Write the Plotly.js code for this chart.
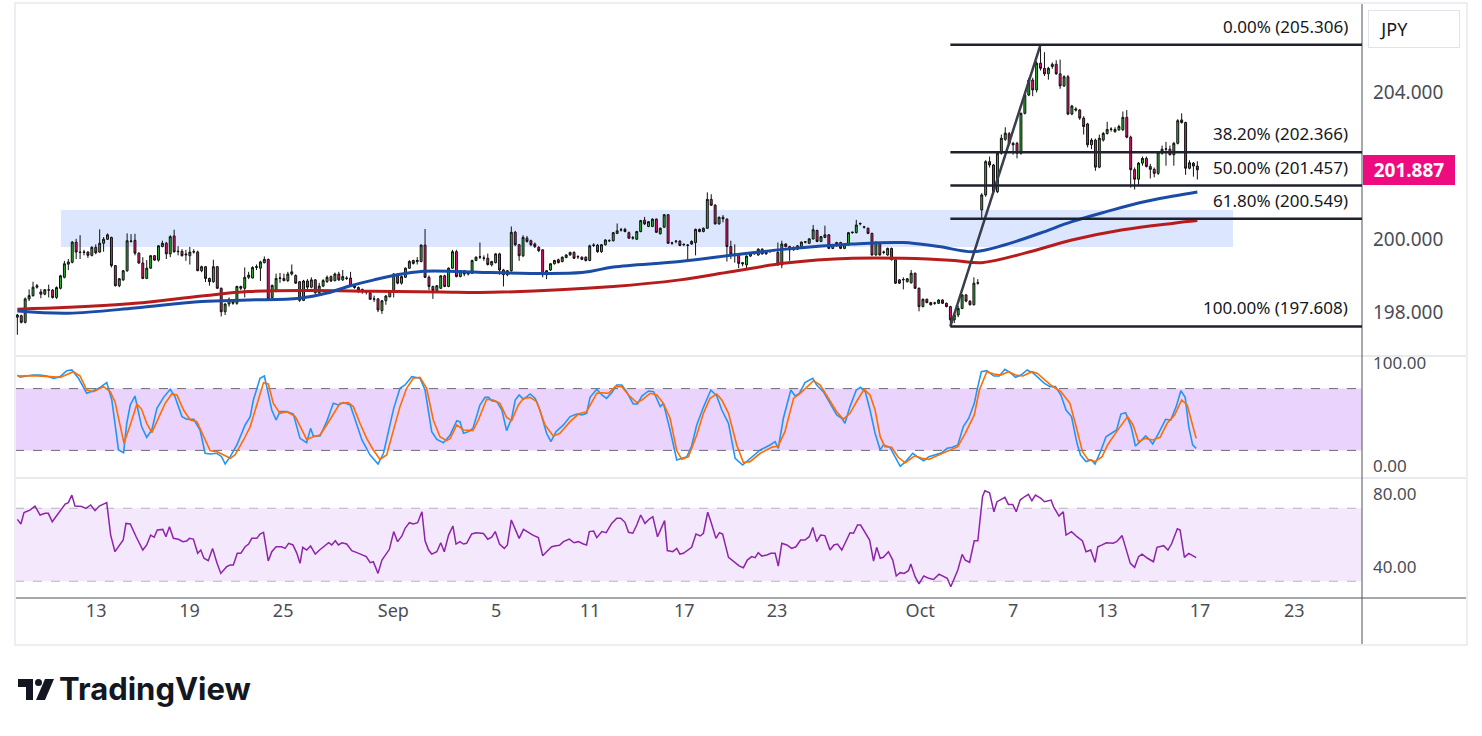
<!DOCTYPE html>
<html>
<head>
<meta charset="utf-8">
<script src="https://cdn.plot.ly/plotly-3.0.1.min.js"></script>
<style>
  html, body { margin: 0; padding: 0; background: #ffffff; }
  #chart { width: 1482px; height: 736px; }
</style>
</head>
<body>
<div id="chart"></div>
<script>
// ---------- DATA (GBP/JPY, 4h candles) ----------
const openP = [
197.86,197.90,197.72,198.36,198.45,198.68,198.55,198.49,198.61,198.60,
198.40,198.65,198.95,199.31,199.36,199.91,199.64,199.63,199.64,199.55,
199.77,199.64,199.88,199.99,200.04,199.27,198.72,198.88,199.13,199.93,
199.96,199.61,199.34,198.92,199.20,199.54,199.42,199.79,199.88,199.59,
200.08,199.65,199.66,199.56,199.54,199.64,199.64,199.13,199.24,198.92,
198.83,199.24,198.65,198.01,198.22,198.30,198.24,198.70,198.65,198.95,
198.93,199.22,199.20,199.35,199.44,198.40,198.56,198.92,198.92,198.86,
199.04,199.00,198.83,198.32,198.85,198.68,198.88,198.53,198.71,198.83,
198.97,198.86,199.04,198.88,198.93,198.93,198.74,198.67,198.62,198.56,
198.52,198.35,198.36,198.04,198.31,198.42,198.55,199.04,198.79,198.95,
199.20,199.41,199.38,199.38,199.83,198.95,198.70,198.59,198.65,198.99,
198.70,199.20,199.65,198.97,199.13,199.04,199.06,199.41,199.50,199.48,
199.47,199.29,199.35,199.59,199.15,199.02,199.13,200.18,199.84,199.54,
200.02,199.95,199.86,199.77,199.70,199.02,199.15,199.32,199.43,199.38,
199.49,199.56,199.63,199.52,199.50,199.50,199.41,199.82,199.83,199.65,
199.84,199.95,199.95,200.15,200.24,200.26,200.17,200.02,199.99,200.20,
200.51,200.34,200.34,200.54,200.14,200.32,200.66,199.88,199.93,199.94,
199.84,199.82,199.93,199.90,200.26,200.20,200.29,201.08,200.92,200.41,
200.59,200.54,199.79,199.59,199.56,199.35,199.29,199.53,199.59,199.56,
199.72,199.65,199.65,199.68,199.63,199.29,199.86,199.79,199.70,199.72,
199.79,199.91,199.88,200.00,200.23,199.93,200.04,200.11,199.74,199.81,
199.90,199.74,199.84,200.17,200.17,200.41,200.32,200.29,200.15,199.56,
199.88,199.63,199.56,199.74,199.43,198.88,198.88,198.83,198.80,199.06,
198.65,198.15,198.35,198.26,198.24,198.24,198.33,198.24,198.15,197.79,
197.92,198.10,198.47,198.30,198.20,198.79,200.79,201.20,202.11,202.02,
201.29,202.34,202.72,202.87,202.61,202.61,202.34,203.43,203.93,204.34,
204.07,204.80,204.66,204.51,204.71,204.77,204.51,204.18,204.43,203.41,
203.55,203.52,203.30,203.14,202.57,202.70,201.96,202.70,202.88,202.99,
202.93,202.98,202.98,203.32,202.78,201.89,201.63,202.07,202.20,201.98,
201.90,201.79,202.34,202.45,202.45,202.30,202.61,203.25,203.18,201.93,
202.07,201.99];
const highP = [
197.95,197.93,198.40,198.62,198.83,198.77,198.63,198.63,198.75,198.63,
198.70,199.02,199.40,199.45,199.94,200.00,200.10,199.70,199.66,199.80,
199.85,200.26,200.05,200.15,200.06,199.28,198.93,199.15,200.15,200.13,
200.14,199.63,199.50,199.42,199.56,199.56,199.83,199.95,199.92,200.10,
200.25,199.80,199.72,199.70,199.78,199.72,199.68,199.27,199.26,198.94,
199.43,199.26,198.67,198.24,198.40,198.32,198.72,198.72,199.22,199.10,
199.25,199.30,199.40,199.52,199.46,198.75,199.05,199.07,199.05,199.10,
199.30,199.03,198.85,198.88,198.90,198.95,198.90,198.80,198.90,199.00,
199.00,199.08,199.10,199.15,198.98,199.10,198.76,198.70,198.64,198.58,
198.55,198.45,198.38,198.33,198.46,198.60,199.06,199.06,199.00,199.22,
199.42,199.43,199.50,199.85,200.27,199.00,198.72,198.74,199.01,199.02,
199.22,199.70,199.70,199.15,199.15,199.10,199.43,199.52,199.90,199.55,
199.60,199.40,199.61,199.62,199.18,199.15,200.34,200.22,199.86,200.10,
200.08,199.98,199.90,199.80,199.72,199.15,199.34,199.43,199.46,199.52,
199.58,199.65,199.66,199.55,199.52,199.52,199.84,199.88,199.86,199.86,
199.99,199.99,200.19,200.42,200.30,200.30,200.20,200.08,200.22,200.52,
200.60,200.49,200.56,200.56,200.31,200.68,200.68,199.92,199.96,199.96,
199.87,199.86,199.96,200.28,200.28,200.31,201.27,201.22,200.95,200.61,
200.65,200.56,199.95,199.85,199.58,199.37,199.55,199.63,199.64,199.74,
199.74,199.67,199.68,199.71,199.90,199.95,199.88,199.81,199.79,199.83,
199.93,199.94,200.02,200.38,200.25,200.08,200.36,200.13,199.86,199.92,
199.92,199.86,200.19,200.20,200.52,200.45,200.35,200.31,200.17,199.93,
199.90,199.68,199.76,199.76,199.45,198.90,198.95,198.93,199.15,199.08,
198.67,198.37,198.37,198.28,198.28,198.35,198.35,198.26,198.17,197.94,
198.17,198.49,198.49,198.32,198.95,198.90,201.25,202.15,202.25,202.05,
202.38,202.85,203.05,202.92,202.65,202.65,203.45,203.97,204.40,204.40,
204.85,205.306,205.10,204.70,204.82,204.88,204.90,204.47,204.48,203.66,
203.60,203.55,203.35,203.17,202.75,202.74,202.85,202.92,203.20,203.05,
203.05,203.12,203.48,203.52,202.82,201.95,202.10,202.25,202.25,202.05,
201.95,202.40,202.55,202.65,202.55,202.65,203.27,203.43,203.20,202.15,
202.10,202.12];
const lowP = [
197.38,197.69,197.69,198.30,198.42,198.64,198.38,198.46,198.40,198.37,
198.36,198.62,198.92,199.15,199.33,199.45,199.45,199.55,199.48,199.52,
199.58,199.62,199.65,199.97,199.22,198.70,198.68,198.85,199.10,199.90,
199.55,199.32,198.90,198.90,199.18,199.40,199.38,199.77,199.45,199.50,
199.62,199.55,199.52,199.40,199.30,199.60,199.12,199.09,198.82,198.72,
198.80,198.63,197.88,197.92,198.15,198.20,198.20,198.60,198.40,198.90,
198.92,199.15,198.85,199.33,198.33,198.38,198.55,198.80,198.84,198.82,
199.00,198.77,198.28,198.30,198.60,198.65,198.50,198.48,198.68,198.80,
198.82,198.84,198.85,198.85,198.88,198.70,198.64,198.52,198.50,198.48,
198.33,198.28,198.00,197.95,198.20,198.40,198.40,198.76,198.75,198.93,
199.18,199.30,199.30,199.36,198.93,198.60,198.36,198.57,198.63,198.68,
198.68,199.18,198.95,198.95,198.98,199.00,199.04,199.39,199.45,199.40,
199.27,199.25,199.33,199.02,198.70,198.98,199.10,199.80,199.40,199.50,
199.90,199.80,199.75,199.64,198.95,198.90,199.12,199.30,199.33,199.36,
199.47,199.54,199.45,199.45,199.42,199.38,199.39,199.78,199.62,199.62,
199.82,199.92,199.93,200.13,200.20,200.18,200.00,199.98,199.97,200.18,
200.38,200.32,200.32,200.16,200.12,200.30,199.86,199.84,199.88,199.80,
199.80,199.40,199.84,199.55,200.18,200.18,200.27,200.90,200.39,200.39,
200.45,199.38,199.45,199.35,199.20,199.25,199.20,199.51,199.57,199.54,
199.57,199.57,199.62,199.65,199.27,199.20,199.77,199.40,199.68,199.70,
199.77,199.88,199.86,199.98,199.91,199.91,200.02,199.72,199.72,199.79,
199.72,199.72,199.82,200.14,200.15,200.37,200.28,200.13,199.54,199.54,
199.54,199.58,199.54,199.41,198.77,198.77,198.62,198.81,198.78,198.63,
198.02,198.13,198.24,198.18,198.20,198.22,198.22,198.13,197.608,197.70,
197.86,198.08,198.27,198.18,198.18,198.75,200.52,201.15,201.95,201.25,
201.25,202.30,202.68,202.55,202.30,202.20,202.30,203.40,203.90,203.90,
204.00,204.60,204.45,204.35,204.65,204.48,204.10,204.15,203.38,203.38,
203.48,203.25,202.85,202.50,202.45,201.86,201.93,202.66,202.85,202.93,
202.90,202.95,202.95,202.75,201.40,201.35,201.45,202.00,201.95,201.65,
201.68,201.75,202.30,202.00,202.28,202.00,202.58,203.15,201.75,201.90,
201.70,201.62];
const closeP = [
197.92,197.72,198.36,198.45,198.68,198.72,198.49,198.61,198.60,198.40,
198.67,198.99,199.32,199.37,199.91,199.64,199.63,199.64,199.55,199.77,
199.62,199.88,199.99,200.11,199.27,198.72,198.91,199.13,199.95,199.94,
199.61,199.34,198.92,199.20,199.54,199.42,199.81,199.88,199.59,200.06,
199.65,199.66,199.54,199.58,199.64,199.65,199.13,199.24,198.92,198.83,
199.24,198.65,198.01,198.22,198.35,198.24,198.70,198.65,198.95,199.01,
199.22,199.24,199.37,199.44,198.36,198.73,198.92,198.93,198.86,199.04,
199.10,198.79,198.32,198.85,198.68,198.88,198.53,198.71,198.86,198.95,
198.85,199.04,198.88,198.97,198.92,198.72,198.67,198.60,198.56,198.55,
198.35,198.36,198.06,198.31,198.44,198.58,199.04,198.79,198.97,199.20,
199.38,199.33,199.41,199.83,198.95,198.70,198.59,198.72,198.99,198.70,
199.20,199.65,198.97,199.13,199.04,199.07,199.41,199.50,199.51,199.47,
199.30,199.38,199.59,199.15,199.02,199.13,200.18,199.84,199.54,200.04,
199.93,199.84,199.79,199.68,199.02,199.13,199.32,199.41,199.35,199.50,
199.56,199.63,199.47,199.51,199.44,199.41,199.81,199.83,199.65,199.84,
199.97,199.95,200.17,200.22,200.25,200.20,200.02,200.03,200.20,200.50,
200.41,200.47,200.54,200.18,200.29,200.66,199.88,199.89,199.94,199.82,
199.85,199.83,199.86,200.26,200.20,200.29,201.08,200.92,200.41,200.59,
200.55,199.79,199.59,199.56,199.33,199.32,199.53,199.61,199.62,199.72,
199.59,199.59,199.66,199.69,199.29,199.86,199.79,199.70,199.77,199.81,
199.91,199.92,200.00,200.25,199.93,200.06,200.11,199.74,199.84,199.90,
199.74,199.84,200.17,200.18,200.38,200.42,200.33,200.15,199.56,199.91,
199.56,199.64,199.74,199.43,198.79,198.79,198.89,198.91,199.06,198.65,
198.15,198.35,198.26,198.20,198.25,198.33,198.24,198.15,197.79,197.92,
198.10,198.47,198.30,198.20,198.79,198.80,201.20,202.11,202.02,201.29,
202.34,202.75,202.89,202.61,202.57,202.34,203.43,203.93,204.34,204.07,
204.80,204.66,204.51,204.66,204.77,204.51,204.18,204.43,203.41,203.63,
203.52,203.30,203.07,202.57,202.70,201.96,202.75,202.88,202.99,203.00,
202.99,203.07,203.32,202.78,201.89,201.63,202.07,202.20,201.98,201.90,
201.79,202.36,202.45,202.46,202.30,202.61,203.23,203.18,201.93,202.08,
201.99,201.887];

// moving averages (candle index, price)
const maBlueIdx = [0,13,30,47,59,72,79,85,91,97,103,112,121,144,152,169,182,196,213,226,235,244,252,261,269,278,286,295,301];
const maBlue = [198.03,197.97,198.11,198.29,198.33,198.38,198.52,198.72,198.88,199.02,199.11,199.11,199.08,199.08,199.23,199.38,199.55,199.72,199.86,199.90,199.79,199.65,199.84,200.16,200.47,200.75,200.98,201.17,201.28];
const maRedIdx = [0,13,30,47,59,74,91,108,121,152,169,182,196,213,226,239,246,257,269,282,295,301];
const maRed = [198.08,198.13,198.24,198.44,198.56,198.59,198.57,198.55,198.54,198.70,198.88,199.10,199.34,199.47,199.47,199.41,199.35,199.61,199.97,200.25,200.43,200.50];

// stochastic %K
const stochKIdx = [0,0.7,2.4,4.1,5.8,7.5,9.2,10.9,12.6,13.9,15.6,17.7,19.4,21.1,22.8,24.1,25.8,27.1,27.9,28.8,30.0,31.7,33.0,34.3,35.6,37.3,39.0,40.2,42.0,43.2,45.0,46.6,47.9,49.2,50.9,52.1,53.0,54.3,56.0,58.1,59.4,60.2,61.9,63.0,64.0,64.9,66.0,67.0,68.7,70.4,72.1,73.8,74.8,75.5,77.2,78.9,80.6,81.9,83.2,84.9,86.2,87.9,90.0,92.0,93.4,94.7,96.0,97.6,98.9,100.6,102.7,104.0,105.7,107.0,108.7,110.4,112.1,112.9,113.8,115.1,116.2,118.0,119.3,120.2,121.0,122.3,123.6,124.8,126.1,127.0,128.0,129.1,130.8,132.1,133.3,135.0,136.1,137.4,139.3,141.0,142.7,144.0,145.2,146.1,147.8,149.1,150.3,151.6,152.9,154.2,155.4,157.1,158.2,159.3,161.0,162.3,164.0,164.8,166.5,168.2,169.5,170.8,172.0,173.3,175.0,176.9,178.4,179.7,181.4,183.1,185.0,186.9,189.5,192.0,193.3,194.1,195.4,197.3,198.4,199.5,200.9,202.9,203.9,205.6,207.3,209.0,210.3,211.1,212.4,214.0,215.1,216.3,217.5,218.8,220.1,220.9,222.6,223.9,225.2,226.6,228.4,229.8,231.2,232.5,234.4,235.8,237.2,238.5,239.9,241.3,242.7,244.1,245.0,245.9,247.3,249.1,250.5,251.9,253.3,254.6,256.0,257.6,259.2,260.6,262.0,263.4,264.8,266.2,267.5,268.9,270.3,271.2,272.6,274.0,274.9,276.3,277.7,279.1,280.4,281.5,282.7,284.1,285.2,286.4,287.8,288.7,289.6,291.0,292.9,294.2,295.6,296.8,297.9,298.8,299.8,300.7];
const stochK = [93.2,91.0,92.2,93.2,93.2,92.2,90.0,91.6,97.4,98.1,90.0,75.4,78.0,81.2,85.8,68.9,20.4,17.8,46.3,64.1,72.8,43.1,32.7,39.8,60.8,71.5,79.3,72.2,52.8,50.2,50.2,39.8,17.2,16.5,17.2,13.9,6.8,13.9,25.3,44.7,52.8,68.9,90.0,92.2,75.4,59.2,49.5,57.6,57.6,55.3,31.7,27.5,41.4,34.0,34.0,47.9,65.7,64.1,66.4,64.1,49.5,30.1,15.5,6.8,17.2,39.8,60.8,80.3,83.5,91.6,90.0,78.6,38.2,30.7,27.5,35.0,48.9,47.9,36.6,38.2,41.4,64.1,71.5,71.5,68.3,67.3,59.2,39.2,51.2,68.9,73.8,69.6,74.8,70.5,59.2,36.6,28.5,38.2,44.7,52.8,55.3,54.4,56.0,71.5,79.3,73.8,70.5,76.0,83.5,83.5,77.0,65.1,65.1,72.8,77.7,77.0,62.5,65.7,39.8,10.7,12.3,13.9,24.3,44.7,61.8,78.6,72.8,59.2,46.3,12.3,5.8,12.3,20.4,25.3,28.5,22.0,51.2,78.6,72.8,75.4,85.8,90.0,83.5,77.0,65.7,54.4,51.2,46.3,62.5,78.6,81.2,77.0,59.2,36.6,20.4,25.3,23.0,13.9,4.5,9.1,17.2,13.3,10.0,13.9,16.2,17.8,22.0,23.0,25.3,43.1,51.2,65.7,81.9,96.4,97.4,92.2,92.2,98.7,95.5,90.9,93.2,98.1,94.8,90.0,85.1,81.9,81.9,73.8,59.2,52.8,26.9,15.5,9.1,10.7,6.8,18.8,33.3,36.6,39.8,55.3,56.6,43.1,24.3,28.5,34.0,30.7,26.2,35.9,50.2,49.5,62.5,78.0,71.5,43.1,25.3,22.0];

// stochastic %D
const stochDIdx = [0,4.1,8.3,10.9,14.3,16.0,17.7,19.4,22.0,23.7,24.9,26.2,27.2,28.8,30.5,31.7,33.0,34.3,36.0,37.7,39.4,40.7,42.4,44.1,45.8,47.5,49.2,50.9,52.6,54.3,55.5,57.7,59.4,61.1,62.8,64.0,65.3,67.0,68.7,70.9,72.5,73.8,75.5,77.2,78.9,81.1,82.3,84.4,85.7,87.4,89.1,90.8,92.5,94.2,95.9,97.6,99.3,101.0,102.7,104.4,106.1,107.8,109.5,110.4,112.1,113.8,116.2,117.6,119.7,121.4,123.1,124.8,126.1,127.8,129.1,130.8,132.5,134.6,136.7,138.4,141.0,143.1,145.2,147.8,149.1,150.8,152.5,154.2,155.9,158.0,159.3,161.4,163.1,164.8,166.5,168.2,169.5,171.2,173.3,175.0,176.7,178.4,179.7,181.4,183.5,185.2,186.9,189.5,192.4,194.1,195.8,198.0,199.7,201.4,203.1,204.8,206.9,209.0,210.7,212.4,214.3,216.0,217.5,218.8,220.1,221.3,223.0,224.7,226.5,228.9,230.7,232.5,234.4,236.2,238.1,239.9,241.8,244.1,245.4,247.3,249.1,251.0,252.8,254.6,256.5,258.8,260.2,262.0,263.9,266.2,268.5,270.3,271.7,273.1,274.9,276.7,278.1,280.4,283.2,284.6,286.0,287.8,289.6,291.5,293.3,295.2,297.0,298.4,300.7];
const stochD = [92.2,92.6,91.6,90.9,96.4,92.2,78.6,77.0,81.9,77.0,67.3,43.1,26.9,44.7,65.0,59.9,46.3,37.2,51.2,65.7,74.8,73.8,59.2,49.5,47.9,33.3,19.7,18.8,15.5,12.3,15.5,30.1,43.1,65.7,85.8,84.5,65.7,56.0,57.6,52.8,41.4,30.7,33.3,35.0,44.7,59.2,65.7,66.4,62.5,46.3,31.7,20.4,11.3,15.5,38.2,62.5,80.3,90.0,91.0,80.3,49.5,33.3,29.5,31.5,44.7,39.8,39.2,49.5,69.6,68.9,65.7,52.1,48.9,64.1,70.5,71.5,67.3,44.7,34.0,36.6,47.9,55.3,57.6,75.4,76.0,75.4,81.9,81.9,73.8,66.4,68.9,75.4,73.8,65.7,51.2,19.7,11.3,13.9,35.0,56.0,70.6,74.8,68.9,56.0,25.3,8.1,9.1,17.2,23.0,24.3,38.2,70.5,75.4,81.9,87.7,83.5,70.5,57.6,50.2,56.0,68.9,79.3,73.8,59.2,33.3,23.6,23.0,13.3,8.0,14.6,12.3,11.3,14.6,17.8,21.1,23.6,36.6,54.4,78.6,96.4,94.2,93.2,96.4,93.2,92.2,96.4,94.8,88.4,82.5,77.0,65.7,39.8,18.8,11.3,9.1,13.9,25.3,38.2,52.8,44.7,28.5,31.7,30.1,32.7,46.3,54.4,68.9,64.1,31.7];

// RSI
const rsiIdx = [0,0.9,1.7,3.2,4.5,5.8,7.1,7.9,8.9,10.5,12.2,13.0,13.9,14.7,16.4,17.5,18.7,19.8,20.9,22.8,23.8,24.9,27.0,27.7,28.8,30.3,32.0,33.0,34.0,34.9,35.7,37.1,37.9,38.8,39.8,41.1,42.2,43.2,43.9,44.9,46.0,46.8,47.6,48.7,49.8,50.9,51.9,53.4,54.3,55.1,56.1,57.0,58.1,59.0,59.8,61.1,61.9,62.8,64.0,64.9,66.0,67.4,68.3,69.2,70.3,71.3,72.1,72.8,73.8,74.8,76.0,77.1,78.1,79.4,80.2,81.1,81.9,82.8,84.0,85.3,86.6,87.9,89.0,90.0,90.8,92.0,93.0,94.9,96.0,97.0,98.1,98.9,100.0,101.0,102.1,103.2,104.0,104.9,105.7,107.0,108.0,108.9,110.0,111.1,111.9,112.9,113.8,114.6,115.9,117.0,118.9,120.0,121.0,121.9,123.0,124.2,125.0,126.0,127.0,128.0,129.1,130.4,131.5,132.9,134.0,135.0,136.3,137.4,138.3,139.3,140.8,142.0,143.1,144.4,145.2,145.9,147.0,147.8,149.1,150.2,151.6,152.9,153.9,155.0,155.9,157.0,158.0,159.0,160.1,161.2,162.1,163.3,164.1,165.1,165.8,167.2,168.2,169.0,169.9,170.9,172.0,173.1,174.2,175.0,176.1,177.0,178.2,179.1,179.9,181.4,182.8,184.2,185.2,186.2,187.3,188.2,189.0,189.9,191.2,192.2,193.3,194.1,195.0,196.3,197.5,198.6,199.8,200.9,202.0,202.9,203.9,204.9,206.0,207.3,208.3,209.2,210.3,211.6,212.4,213.3,214.3,215.1,216.3,217.4,218.4,219.2,220.1,220.9,222.2,223.3,224.2,225.2,226.2,227.3,227.9,229.0,230.0,231.2,232.5,233.7,235.1,236.2,237.2,238.1,239.9,241.0,241.8,242.9,244.1,245.0,246.2,246.8,248.0,249.1,249.9,251.0,251.9,252.8,253.9,254.8,255.8,256.9,257.9,258.8,259.7,261.1,262.0,263.7,264.3,265.7,266.8,267.5,268.9,270.3,271.7,272.6,273.8,274.9,275.6,276.7,277.8,279.5,280.4,281.8,283.0,283.9,285.0,286.0,286.9,288.3,289.8,290.7,292.4,293.5,294.4,295.9,296.6,297.7,298.8,300.7];
const rsiVal = [63.9,61.4,67.6,69.0,71.2,66.3,67.2,67.2,62.6,67.2,72.3,73.1,77.2,71.2,70.9,69.9,71.8,68.7,71.2,73.1,55.3,46.2,52.6,61.7,61.4,54.4,47.1,49.9,55.3,54.1,58.1,58.4,54.4,59.9,53.5,53.0,51.7,52.0,53.5,53.1,45.3,47.1,42.6,41.3,48.0,40.2,34.3,38.0,38.9,38.9,45.3,45.3,48.9,50.4,53.5,53.5,55.9,56.8,41.1,46.2,48.9,48.9,48.0,50.8,49.9,45.3,39.8,48.6,47.1,49.3,44.9,47.1,48.9,51.1,49.9,52.2,49.9,51.1,50.4,46.8,45.7,44.4,43.5,40.2,40.7,34.3,41.6,47.5,57.2,51.7,54.8,59.0,62.1,61.4,62.1,68.1,52.2,47.1,44.9,46.2,51.1,46.2,55.3,60.3,50.4,51.7,50.4,50.8,55.9,56.6,56.2,53.0,54.1,57.2,50.4,48.0,49.9,63.6,58.1,53.5,58.4,56.6,55.3,53.9,44.0,46.2,48.9,49.5,49.7,51.7,53.1,51.1,51.7,50.4,49.9,57.2,57.5,53.9,57.2,56.6,61.7,64.5,64.5,62.3,56.8,56.3,60.8,66.3,61.7,64.1,65.4,54.4,58.1,63.2,46.8,46.2,48.0,44.9,45.3,47.1,48.6,55.9,54.8,56.3,67.8,62.1,53.5,56.6,55.9,43.1,40.7,38.3,37.4,41.6,43.5,42.9,45.7,43.8,44.4,45.3,45.3,38.3,50.8,49.9,48.0,48.9,52.6,52.6,54.4,59.5,51.7,55.3,55.0,47.1,49.9,50.4,47.1,53.0,56.6,56.3,60.8,60.8,56.3,52.6,41.1,48.6,42.6,43.1,46.2,41.6,32.9,34.7,34.3,35.8,39.4,32.5,28.5,32.9,31.6,31.0,33.9,32.9,31.6,27.0,36.2,44.7,41.6,40.4,52.2,52.2,76.3,79.6,78.5,68.1,73.6,74.9,76.0,72.1,72.1,68.1,74.5,76.3,77.6,74.1,77.2,75.4,73.6,74.5,70.9,65.7,68.1,55.3,57.2,54.4,52.1,46.2,47.1,40.4,48.9,49.9,51.1,50.8,51.7,55.0,46.2,39.8,37.6,43.5,44.9,42.6,40.7,48.6,49.5,47.1,50.4,58.8,58.1,43.1,45.3,42.9];

// Fibonacci retracement (anchor candles and levels)
const fibLowIdx = 238, fibHighIdx = 261;
const fibPct = [0, 38.2, 50, 61.8, 100];
const fibPrice = [205.306, 202.366, 201.457, 200.549, 197.608];

// support zone
const zoneIdx = [11.1, 310.1];
const zonePrice = [199.78, 200.79];

// axis ticks
const xTickIdx = [20.1, 43.9, 67.8, 95.9, 122.1, 146.1, 170.1, 193.8, 230.3, 254.0, 278.0, 301.7, 325.7];
const xTickText = ['13','19','25','Sep','5','11','17','23','Oct','7','13','17','23'];
const priceTicks = [198, 200, 204];
const stochTicks = [0, 100];
const rsiTicks = [40, 80];
const lastPrice = 201.887;
const currency = 'JPY';

// ---------- CHART ----------
const X_RANGE = [-0.6, 343.0];
const FONT = 'Noto Sans, Open Sans, DejaVu Sans, sans-serif';
const candleX = closeP.map((_, i) => i);

// helpers for decoration placed in page pixels (plot area: x 15..1362, y 5..598)
const PL = 15, PR = 1362, PT = 5, PB = 598;
const px = x => (x - PL) / (PR - PL);
const py = y => (PB - y) / (PB - PT);

const traces = [
  {
    type: 'candlestick', x: candleX, open: openP, high: highP, low: lowP, close: closeP,
    xaxis: 'x', yaxis: 'y',
    increasing: { line: { color: '#111111', width: 1 }, fillcolor: '#2DB52D' },
    decreasing: { line: { color: '#111111', width: 1 }, fillcolor: '#EC1670' },
    whiskerwidth: 0, hoverinfo: 'skip'
  },
  { type: 'scatter', mode: 'lines', x: maRedIdx, y: maRed, yaxis: 'y',
    line: { color: '#B71C1C', width: 3, shape: 'spline', smoothing: 1.0 }, hoverinfo: 'skip' },
  { type: 'scatter', mode: 'lines', x: maBlueIdx, y: maBlue, yaxis: 'y',
    line: { color: '#1A4CA6', width: 3, shape: 'spline', smoothing: 1.0 }, hoverinfo: 'skip' },
  { type: 'scatter', mode: 'lines', x: stochKIdx, y: stochK, yaxis: 'y2',
    line: { color: '#2196F3', width: 1.6 }, hoverinfo: 'skip' },
  { type: 'scatter', mode: 'lines', x: stochDIdx, y: stochD, yaxis: 'y2',
    line: { color: '#FF6D00', width: 1.6 }, hoverinfo: 'skip' },
  { type: 'scatter', mode: 'lines', x: rsiIdx, y: rsiVal, yaxis: 'y3',
    line: { color: '#8E24AA', width: 1.5 }, hoverinfo: 'skip' }
];

const shapes = [
  // support zone
  { type: 'rect', xref: 'x', yref: 'y', x0: zoneIdx[0], x1: zoneIdx[1], y0: zonePrice[0], y1: zonePrice[1],
    fillcolor: '#DDE6FF', line: { width: 0 }, layer: 'below' },
  // stoch band + dashed bounds
  { type: 'rect', xref: 'paper', yref: 'y2', x0: 0, x1: 1, y0: 20, y1: 80,
    fillcolor: 'rgb(234,211,252)', line: { width: 0 }, layer: 'below' },
  { type: 'line', xref: 'paper', yref: 'y2', x0: 0, x1: 1, y0: 80, y1: 80, line: { color: '#6a6d78', width: 1, dash: 'dash' }, layer: 'below' },
  { type: 'line', xref: 'paper', yref: 'y2', x0: 0, x1: 1, y0: 20, y1: 20, line: { color: '#6a6d78', width: 1, dash: 'dash' }, layer: 'below' },
  // rsi band + dashed bounds
  { type: 'rect', xref: 'paper', yref: 'y3', x0: 0, x1: 1, y0: 30, y1: 70,
    fillcolor: 'rgb(244,232,253)', line: { width: 0 }, layer: 'below' },
  { type: 'line', xref: 'paper', yref: 'y3', x0: 0, x1: 1, y0: 70, y1: 70, line: { color: '#b2b5be', width: 1, dash: 'dash' }, layer: 'below' },
  { type: 'line', xref: 'paper', yref: 'y3', x0: 0, x1: 1, y0: 30, y1: 30, line: { color: '#b2b5be', width: 1, dash: 'dash' }, layer: 'below' },
  // fib trend line
  { type: 'line', xref: 'x', yref: 'y', x0: fibLowIdx, y0: lowP[fibLowIdx], x1: fibHighIdx, y1: highP[fibHighIdx],
    line: { color: '#3a3e4a', width: 2.5 } },
  // frame / separators
  { type: 'line', xref: 'paper', yref: 'paper', x0: 0, x1: px(1467), y0: py(356), y1: py(356), line: { color: '#e0e3eb', width: 1.5 } },
  { type: 'line', xref: 'paper', yref: 'paper', x0: 0, x1: px(1467), y0: py(478), y1: py(478), line: { color: '#e0e3eb', width: 1.5 } },
  { type: 'line', xref: 'paper', yref: 'paper', x0: 0, x1: px(1467), y0: 0, y1: 0, line: { color: '#50535e', width: 1 } },
  { type: 'line', xref: 'paper', yref: 'paper', x0: 1, x1: 1, y0: py(3), y1: py(645), line: { color: '#50535e', width: 1 } },
  { type: 'rect', xref: 'paper', yref: 'paper', x0: 0, x1: px(1467), y0: py(645), y1: py(3), line: { color: '#eceef2', width: 2 }, fillcolor: 'rgba(0,0,0,0)' },
  // TradingView logo mark
  { type: 'path', xref: 'paper', yref: 'paper',
    path: `M ${px(18)} ${py(679)} L ${px(33)} ${py(679)} L ${px(33)} ${py(700)} L ${px(26)} ${py(700)} L ${px(26)} ${py(687)} L ${px(18)} ${py(687)} Z`,
    fillcolor: '#131722', line: { width: 0 } },
  { type: 'circle', xref: 'paper', yref: 'paper', x0: px(35), x1: px(42), y0: py(686), y1: py(679),
    fillcolor: '#131722', line: { width: 0 } },
  { type: 'path', xref: 'paper', yref: 'paper',
    path: `M ${px(45)} ${py(679)} L ${px(54)} ${py(679)} L ${px(45)} ${py(700)} L ${px(36)} ${py(700)} Z`,
    fillcolor: '#131722', line: { width: 0 } }
];

// fib level lines
fibPrice.forEach(p => {
  shapes.push({ type: 'line', xref: 'x', yref: 'y', x0: fibLowIdx, x1: X_RANGE[1], y0: p, y1: p,
    line: { color: '#1e222d', width: 2.5 } });
});

const annotations = fibPrice.map((p, i) => ({
  xref: 'paper', yref: 'y', x: px(1350), y: p, xanchor: 'right', yanchor: 'bottom', yshift: 5,
  text: `${fibPct[i].toFixed(2)}% (${p.toFixed(3)})`, showarrow: false,
  font: { family: FONT, size: 17, color: '#131722' }
}));

annotations.push({
  xref: 'paper', yref: 'y', x: px(1363), y: lastPrice, xanchor: 'left', yanchor: 'middle',
  text: '<b>' + lastPrice.toFixed(3) + '</b>', showarrow: false,
  bgcolor: '#EE0B7F', width: 86, height: 24, borderpad: 3, borderwidth: 0, align: 'center',
  font: { family: FONT, size: 19, color: '#ffffff' }
});
annotations.push({
  xref: 'paper', yref: 'paper', x: px(1368), y: py(29), xanchor: 'left', yanchor: 'middle',
  text: '&nbsp;&nbsp;' + currency, showarrow: false, align: 'left',
  width: 84, height: 30, borderpad: 3, bordercolor: '#e0e3eb', borderwidth: 1, bgcolor: '#ffffff',
  font: { family: FONT, size: 18, color: '#131722' }
});
annotations.push({
  xref: 'paper', yref: 'paper', x: px(57), y: py(688), xanchor: 'left', yanchor: 'middle',
  text: '<b>TradingView</b>', showarrow: false,
  font: { family: 'Inter, Noto Sans, sans-serif', size: 31, color: '#131722' }
});

const tickFont = { family: FONT, size: 18, color: '#4a4d57' };
const yCommon = {
  side: 'right', anchor: 'x', showgrid: false, zeroline: false, showline: false,
  ticks: '', tickfont: { family: FONT, size: 19, color: '#4a4d57' }, ticklabelstandoff: 10, fixedrange: true
};

const layout = {
  width: 1482, height: 736,
  margin: { l: PL, r: 1482 - PR, t: PT, b: 736 - PB },
  paper_bgcolor: '#ffffff', plot_bgcolor: '#ffffff',
  showlegend: false, dragmode: false, hovermode: false,
  xaxis: {
    range: X_RANGE, anchor: 'y3', domain: [0, 1],
    tickvals: xTickIdx, ticktext: xTickText, tickfont: tickFont, ticks: '',
    showgrid: false, zeroline: false, showline: false,
    rangeslider: { visible: false }, fixedrange: true
  },
  yaxis: Object.assign({}, yCommon, {
    domain: [py(356), 1], range: [196.80, 206.39],
    tickvals: priceTicks, ticktext: priceTicks.map(v => v.toFixed(3))
  }),
  yaxis2: Object.assign({}, yCommon, {
    domain: [py(478), py(356)], range: [-6.8, 111.65],
    tickvals: stochTicks, ticktext: stochTicks.map(v => v.toFixed(2)),
    tickfont: { family: FONT, size: 17, color: '#4a4d57' }, ticklabelshift: -5
  }),
  yaxis3: Object.assign({}, yCommon, {
    domain: [0, py(478)], range: [20.82, 86.58],
    tickvals: rsiTicks, ticktext: rsiTicks.map(v => v.toFixed(2)),
    tickfont: { family: FONT, size: 17, color: '#4a4d57' }, ticklabelshift: 4
  }),
  shapes: shapes,
  annotations: annotations
};

Plotly.newPlot('chart', traces, layout, { staticPlot: true, displayModeBar: false });
</script>
</body>
</html>
